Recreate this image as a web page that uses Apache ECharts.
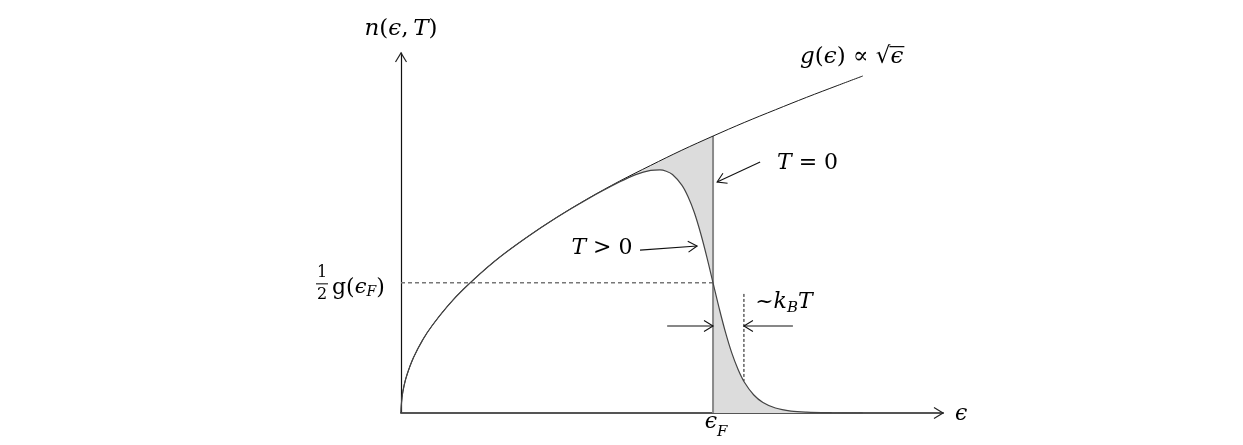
<!DOCTYPE html>
<html>
<head>
<meta charset="utf-8">
<script src="https://cdn.jsdelivr.net/npm/echarts@6/dist/echarts.min.js"></script>
<style>
html,body{margin:0;padding:0;background:#fff;}
#chart{width:1243px;height:445px;}
</style>
</head>
<body>
<div id="chart"></div>
<script>
// ---- data (x in units of eps_F, y in units of g(eps_F)) ----
const epsG  = [0, 0.003, 0.01, 0.02, 0.04, 0.07, 0.1, 0.15, 0.2, 0.3, 0.4, 0.5, 0.6, 0.7, 0.8, 0.9, 1.0, 1.1, 1.2, 1.3, 1.4, 1.48];
const gVals = [0, 0.055, 0.1, 0.141, 0.2, 0.265, 0.316, 0.387, 0.447, 0.548, 0.632, 0.707, 0.775, 0.837, 0.894, 0.949, 1.0, 1.049, 1.095, 1.140, 1.183, 1.217];
const epsN  = [0, 0.003, 0.01, 0.02, 0.04, 0.07, 0.1, 0.15, 0.2, 0.3, 0.4, 0.5, 0.6, 0.7, 0.75, 0.8, 0.83, 0.85, 0.87, 0.9, 0.92, 0.94, 0.96, 0.98, 1.0, 1.02, 1.04, 1.06, 1.08, 1.1, 1.13, 1.16, 1.2, 1.25, 1.3, 1.38, 1.48];
const nVals = [0, 0.055, 0.1, 0.141, 0.2, 0.265, 0.316, 0.387, 0.447, 0.548, 0.632, 0.707, 0.774, 0.834, 0.860, 0.876, 0.878, 0.873, 0.861, 0.823, 0.781, 0.724, 0.650, 0.564, 0.470, 0.377, 0.291, 0.217, 0.158, 0.112, 0.066, 0.038, 0.018, 0.007, 0.003, 0.001, 0];
const epsF = 1.0;
const gAtF = 1.0;
const halfLevel = 0.47;
const kTEdge = 1.099;
const kTDash = [0.43, 0.115];
const xMax = 1.737, yMax = 1.3;
// annotation arrows: [fromX, fromY, toX, toY]
const arrows = [
  [1.151, 0.906, 1.013, 0.834],
  [0.766, 0.588, 0.949, 0.603],
  [0.853, 0.314, 1.0, 0.314],
  [1.256, 0.314, 1.099, 0.314]
];
const axisHeads = [[0, 1.2, 0, yMax], [1.7, 0, xMax, 0]];

const gData = epsG.map((e, i) => [e, gVals[i]]);
const nData = epsN.map((e, i) => [e, nVals[i]]);

const chart = echarts.init(document.getElementById('chart'), null, {renderer: 'canvas'});

function arrowRender(headLen, halfW, withShaft, color, width) {
  return function (params, api) {
    const p1 = api.coord([api.value(0), api.value(1)]);
    const p2 = api.coord([api.value(2), api.value(3)]);
    const dx = p2[0] - p1[0], dy = p2[1] - p1[1];
    const L = Math.sqrt(dx * dx + dy * dy) || 1;
    const ux = dx / L, uy = dy / L;
    const bx = p2[0] - ux * headLen, by = p2[1] - uy * headLen;
    const h1 = [bx - uy * halfW, by + ux * halfW];
    const h2 = [bx + uy * halfW, by - ux * halfW];
    const children = [];
    if (withShaft) children.push({type: 'line', shape: {x1: p1[0], y1: p1[1], x2: p2[0], y2: p2[1]}, style: {stroke: color, lineWidth: width}});
    children.push({type: 'polyline', shape: {points: [h1, p2, h2]}, style: {stroke: color, lineWidth: width, fill: null}});
    return {type: 'group', children: children};
  };
}

const option = {
  animation: false,
  backgroundColor: '#fff',
  grid: {left: 401, right: 300, top: 53, bottom: 32, containLabel: false},
  xAxis: {
    type: 'value', min: 0, max: xMax,
    axisLine: {show: true, onZero: false, lineStyle: {color: '#555', width: 2}},
    axisTick: {show: false}, axisLabel: {show: false}, splitLine: {show: false}
  },
  yAxis: {
    type: 'value', min: 0, max: yMax,
    axisLine: {show: true, onZero: false, lineStyle: {color: '#111', width: 1.2}},
    axisTick: {show: false}, axisLabel: {show: false}, splitLine: {show: false}
  },
  series: [
    {
      type: 'custom', name: 'fill', clip: false, z: 1, silent: true,
      data: [[epsF, 0]],
      renderItem: function (params, api) {
        const left = [];
        epsG.forEach((e, i) => { if (e >= 0.5 && e <= epsF) left.push(api.coord([e, gVals[i]])); });
        for (let i = epsN.length - 1; i >= 0; i--) { if (epsN[i] >= 0.5 && epsN[i] <= epsF) left.push(api.coord([epsN[i], nVals[i]])); }
        const right = [api.coord([epsF, 0])];
        epsN.forEach((e, i) => { if (e >= epsF) right.push(api.coord([e, nVals[i]])); });
        right.push(api.coord([epsN[epsN.length - 1], 0]));
        return {type: 'group', children: [
          {type: 'polygon', shape: {points: left, smooth: 0}, style: {fill: '#dcdcdc'}},
          {type: 'polygon', shape: {points: right, smooth: 0}, style: {fill: '#dcdcdc'}}
        ]};
      }
    },
    {
      type: 'line', name: 'g', data: gData, smooth: 0.35,
      showSymbol: false, z: 3, lineStyle: {color: '#1a1a1a', width: 1}
    },
    {
      type: 'line', name: 'n', data: nData, smooth: 0.35,
      showSymbol: false, z: 3, lineStyle: {color: '#444', width: 1.2}
    },
    {
      type: 'line', name: 'T0', data: [[epsF, 0], [epsF, gAtF]], showSymbol: false, z: 2,
      lineStyle: {color: '#8a8a8a', width: 2}
    },
    {
      type: 'line', name: 'half', data: [[0, halfLevel], [epsF, halfLevel]], showSymbol: false, z: 2,
      lineStyle: {color: '#777', width: 1.5, type: [4, 3]}
    },
    {
      type: 'line', name: 'kT', data: [[kTEdge, kTDash[0]], [kTEdge, kTDash[1]]], showSymbol: false, z: 2,
      lineStyle: {color: '#111', width: 1, type: [3, 2]}
    },
    {
      type: 'custom', name: 'arrows', clip: false, z: 4, silent: true,
      data: arrows, renderItem: arrowRender(9, 5.5, true, '#111', 1.1)
    },
    {
      type: 'custom', name: 'axisHeads', clip: false, z: 4, silent: true,
      data: axisHeads, renderItem: arrowRender(9, 5.5, false, '#222', 1.2)
    }
  ]
};
chart.setOption(option);

// ---- text labels (real text) placed through the grid's coordinate conversion ----
const FAM = '"DejaVu Serif", "Liberation Serif", serif';
const cv = document.createElement('canvas').getContext('2d');
function fnt(st, sz) { return st + ' ' + sz + 'px ' + FAM; }
function measure(t, f) { cv.font = f; return cv.measureText(t).width; }
function px(p) { return chart.convertToPixel({gridIndex: 0}, p); }

const IT = 'italic', UP = 'normal';
const graphics = [];
function run(x, y, pieces, align, size) {
  const items = pieces.map(p => {
    const f = fnt(p[1], p[2] || size);
    return {t: p[0], f: f, w: measure(p[0], f), dy: p[3] || 0};
  });
  const total = items.reduce((s, it) => s + it.w, 0);
  let cx = align === 'center' ? x - total / 2 : (align === 'right' ? x - total : x);
  const pos = [];
  items.forEach(it => {
    graphics.push({type: 'text', x: cx, y: y + it.dy, silent: true,
      style: {text: it.t, font: it.f, fill: '#000', align: 'left', verticalAlign: 'middle', textAlign: 'left', textVerticalAlign: 'middle'}});
    pos.push([cx, cx + it.w]);
    cx += it.w;
  });
  return pos;
}

// n(eps,T)
let a = px([0, 1.386]);
run(a[0], a[1], [['n', IT], ['(', UP], ['ϵ', IT], [',\u2009', UP], ['T', IT], [')', UP]], 'center', 23);
// g(eps) ∝ √eps
a = px([1.279, 1.285]);
let pos = run(a[0], a[1], [['g', IT], ['(', UP], ['ϵ', IT], [')', UP], [' ∝ ', UP], ['√', UP], ['ϵ', IT]], 'left', 23);
let last = pos[pos.length - 1];
graphics.push({type: 'line', silent: true, shape: {x1: last[0] - 1, y1: a[1] - 10.5, x2: last[1] + 1, y2: a[1] - 10.5}, style: {stroke: '#000', lineWidth: 1.2}});
// T = 0
a = px([1.205, 0.903]);
run(a[0], a[1], [['T', IT], [' = 0', UP]], 'left', 22);
// T > 0
a = px([0.742, 0.596]);
run(a[0], a[1], [['T', IT], [' > 0', UP]], 'right', 22);
// ~k_B T
a = px([1.135, 0.40]);
run(a[0], a[1], [['~', UP], ['k', IT], ['B', IT, 15, 6], ['T', IT]], 'left', 22);
// 1/2 g(eps_F)
a = px([0, halfLevel]);
run(a[0] - 79, a[1] - 10, [['1', UP]], 'center', 16);
graphics.push({type: 'line', silent: true, shape: {x1: a[0] - 85, y1: a[1] + 1, x2: a[0] - 73, y2: a[1] + 1}, style: {stroke: '#000', lineWidth: 1}});
run(a[0] - 79, a[1] + 12, [['2', UP]], 'center', 16);
run(a[0] - 69, a[1] + 5, [['g(', UP, 22], ['ϵ', IT], ['F', IT, 14, 5], [')', UP, 22]], 'left', 21);
// eps_F tick label
a = px([epsF, 0]);
run(a[0] + 3, a[1] + 9, [['ϵ', IT, 22], ['F', IT, 15, 10]], 'center', 22);
// eps axis label
a = px([xMax, 0]);
run(a[0] + 12, a[1] + 1, [['ϵ', IT]], 'left', 22);

chart.setOption({graphic: {elements: graphics}});
</script>
</body>
</html>
